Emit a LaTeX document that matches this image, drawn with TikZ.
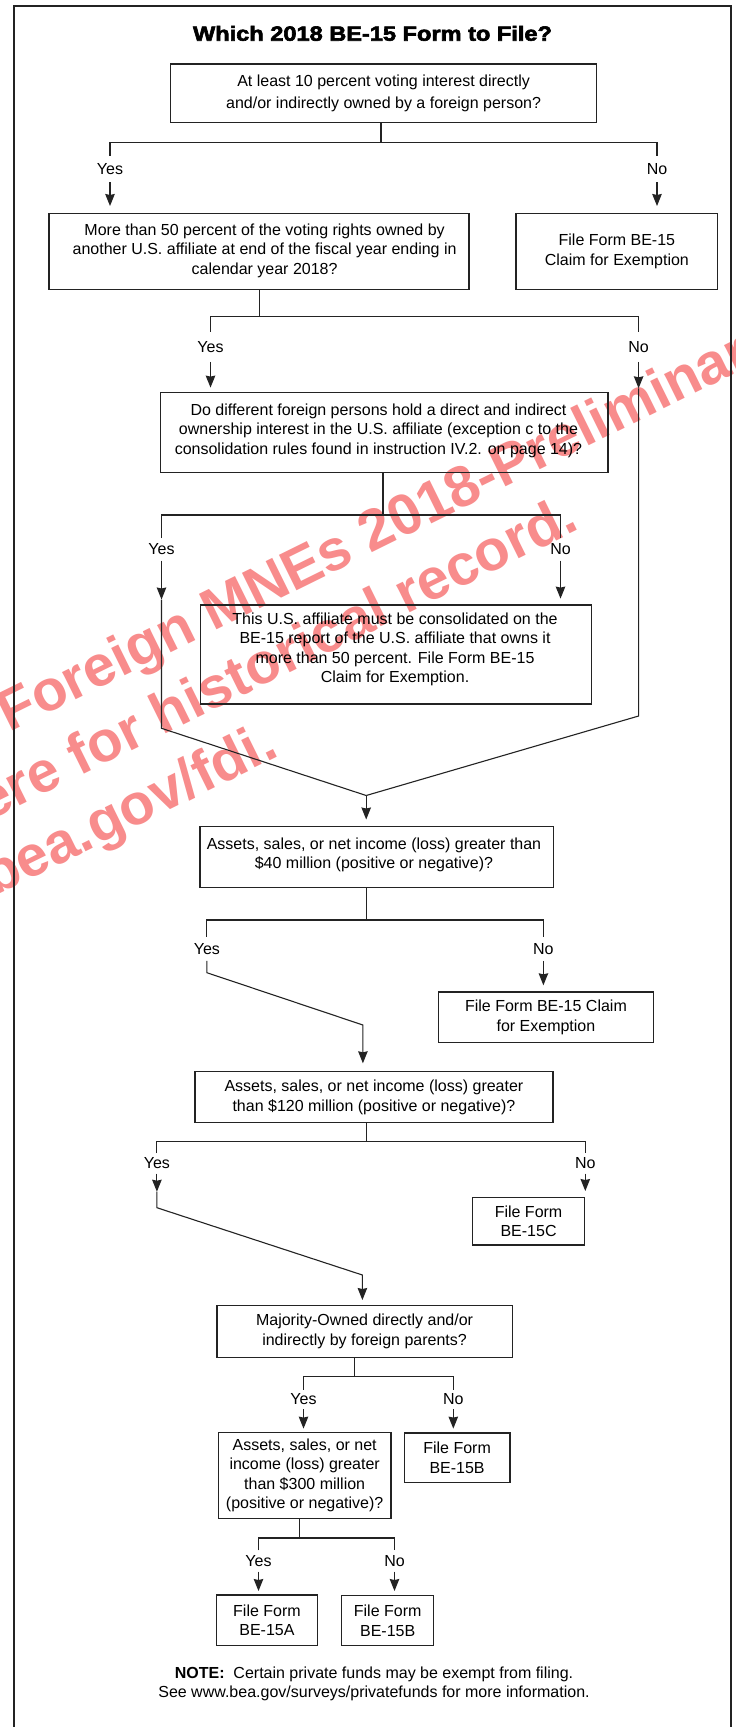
\documentclass[tikz,border=0pt]{standalone}
\usepackage{fontspec}
\setmainfont{Liberation Sans}
\newfontfamily\titlefont[FakeStretch=1.15,FakeBold=3]{Liberation Sans}
\usetikzlibrary{arrows.meta}
\definecolor{wm}{RGB}{248,140,140}
\definecolor{ink}{RGB}{35,35,35}
\begin{document}
\begin{tikzpicture}[x=1pt,y=-1pt,
 box/.style={draw=ink, line width=1.4pt, inner sep=0pt, align=center, font=\fontsize{16}{19.5}\selectfont},
 txt/.style={inner sep=0pt, align=center, font=\fontsize{16}{19.5}\selectfont},
 lab/.style={inner sep=0pt, minimum height=#1, font=\fontsize{16}{19}\selectfont},
 conn/.style={draw=ink, line width=1.1pt, line join=miter},
 arr/.style={conn, -{Stealth[length=12pt,width=9.5pt,inset=1pt]}},
 wmark/.style={inner sep=0pt, anchor=base west, rotate=26.3, text=wm, font=\fontsize{57.5}{57.5}\selectfont\bfseries}
]
\useasboundingbox (0,0) rectangle (736,1727);
\fill[white] (0,0) rectangle (736,1727);

% watermark (behind)
\node[wmark] (wm1) at (9.7,732.3) {Foreign MNEs 2018-Preliminary};
\node[wmark] (wm2) at (-12,821.5) {ere for historical record.};
\node[wmark] (wm3) at (-6,897) {bea.gov/fdi.};

% frame
\draw[ink, line width=2.5pt, line join=miter] (14,1735) -- (14,6) -- (731,6) -- (731,1735);

% title
\node[inner sep=0pt, anchor=base, font=\titlefont\bfseries\fontsize{20.5}{24}\selectfont] (title) at (372.5,40.7) {Which 2018 BE-15 Form to File?};

% boxes
\node[box, minimum width=426pt, minimum height=58.3pt, font=\fontsize{16}{21.7}\selectfont] (b1) at (383.6,93.15) {At least 10 percent voting interest directly\\and/or indirectly owned by a foreign person?};
\node[box, minimum width=420pt, minimum height=75.6pt] (b2) at (259,251.5) {};
\node[txt] (t2) at (264.6,250.5) {More than 50 percent of the voting rights owned by\\another U.S. affiliate at end of the fiscal year ending in\\calendar year 2018?};
\node[box, minimum width=201.7pt, minimum height=75.6pt, font=\fontsize{16}{20.5}\selectfont] (b3) at (616.85,251.5) {File Form BE-15\\Claim for Exemption};
\node[box, minimum width=447.8pt, minimum height=80pt] (b4) at (384.1,432.3) {};
\node[txt] (t4) at (378.5,430.5) {Do different foreign persons hold a direct and indirect\\ownership interest in the U.S. affiliate (exception c to the\\consolidation rules found in instruction IV.2. on page 14)?};
\node[box, minimum width=391.1pt, minimum height=99pt] (b5) at (395.85,654.5) {};
\node[txt] (t5) at (395,649.5) {This U.S. affiliate must be consolidated on the\\BE-15 report of the U.S. affiliate that owns it\\more than 50 percent. File Form BE-15\\Claim for Exemption.};
\node[box, minimum width=353.4pt, minimum height=61pt] (b6) at (376.5,857.2) {};
\node[txt] (t6) at (374,855) {Assets, sales, or net income (loss) greater than\\\$40 million (positive or negative)?};
\node[box, minimum width=215.3pt, minimum height=50.3pt, font=\fontsize{16}{20}\selectfont] (b7) at (545.95,1017.15) {File Form BE-15 Claim\\for Exemption};
\node[box, minimum width=357.7pt, minimum height=51pt] (b8) at (373.95,1097.2) {Assets, sales, or net income (loss) greater\\than \$120 million (positive or negative)?};
\node[box, minimum width=111.7pt, minimum height=47.3pt] (b9) at (528.55,1221.35) {File Form\\BE-15C};
\node[box, minimum width=295.5pt, minimum height=52pt] (b10) at (364.55,1331.3) {Majority-Owned directly and/or\\indirectly by foreign parents?};
\node[box, minimum width=172.9pt, minimum height=86pt] (b11) at (304.65,1475.3) {Assets, sales, or net\\income (loss) greater\\than \$300 million\\(positive or negative)?};
\node[box, minimum width=105.6pt, minimum height=49.7pt] (b12) at (457.1,1457.85) {File Form\\BE-15B};
\node[box, minimum width=101.3pt, minimum height=50.7pt] (b13) at (266.95,1620.35) {File Form\\BE-15A};
\node[box, minimum width=91.9pt, minimum height=50pt] (b14) at (387.65,1620.7) {File Form\\BE-15B};

% note
\node[inner sep=0pt, anchor=base, align=center, font=\fontsize{16}{19}\selectfont] (note) at (374,1697.5) {\textbf{NOTE:}\ \ Certain private funds may be exempt from filing.\\See www.bea.gov/surveys/privatefunds for more information.};

% labels
\node[lab=26pt] (Y1) at (110,169) {Yes};
\node[lab=26pt] (N1) at (657,169) {No};
\node[lab=30pt] (Y2) at (210.5,346.7) {Yes};
\node[lab=30pt] (N2) at (638.6,346.7) {No};
\node[lab=22pt] (Y3) at (161.5,549.3) {Yes};
\node[lab=22pt] (N3) at (560.5,549.3) {No};
\node[lab=24pt] (Y4) at (206.9,948.7) {Yes};
\node[lab=24pt] (N4) at (543.4,948.7) {No};
\node[lab=20pt] (Y5) at (156.9,1163.3) {Yes};
\node[lab=20pt] (N5) at (585.3,1163.3) {No};
\node[lab=19pt] (Y6) at (303.5,1399.3) {Yes};
\node[lab=19pt] (N6) at (453.3,1399.3) {No};
\node[lab=21pt] (Y7) at (258.5,1561) {Yes};
\node[lab=21pt] (N7) at (394.5,1561) {No};

% tree 1
\coordinate (j1) at (381,142.7);
\draw[conn] (b1.south -| j1) -- (j1);
\draw[conn] (Y1.north) -- (Y1.north |- j1) -- (N1.north |- j1) -- (N1.north);
\draw[arr, shorten >=7pt] (Y1.south) -- (Y1.south |- b2.north);
\draw[arr, shorten >=7pt] (N1.south) -- (N1.south |- b3.north);

% tree 2
\coordinate (j2) at (259.7,316.7);
\draw[conn] (b2.south -| j2) -- (j2);
\draw[conn] (Y2.north) -- (Y2.north |- j2) -- (N2.north |- j2) -- (N2.north);
\draw[arr, shorten >=4pt] (Y2.south) -- (Y2.south |- b4.north);
\coordinate (n2a) at (638.6,388.3);
\coordinate (n2b) at (638.6,716);
\coordinate (m1) at (366.2,795.5);
\draw[arr] (N2.south) -- (n2a);
\draw[conn] (n2a) -- (n2b) -- (m1);

% tree 3
\coordinate (j3) at (383,515);
\draw[conn] (b4.south -| j3) -- (j3);
\draw[conn] (Y3.north) -- (Y3.north |- j3) -- (N3.north |- j3) -- (N3.north);
\coordinate (y3a) at (161.5,599.5);
\coordinate (y3b) at (161.5,728.3);
\draw[arr] (Y3.south) -- (y3a);
\draw[conn] (y3a) -- (y3b) -- (m1);
\draw[arr, shorten >=5.7pt] (N3.south) -- (N3.south |- b5.north);
\draw[arr, shorten >=6.5pt] (m1) -- (m1 |- b6.north);

% tree 4
\coordinate (j4) at (366.2,920);
\draw[conn] (b6.south -| j4) -- (j4);
\draw[conn] (Y4.north) -- (Y4.north |- j4) -- (N4.north |- j4) -- (N4.north);
\coordinate (y4a) at (206.9,972.7);
\coordinate (y4b) at (362.9,1025);
\draw[arr, shorten >=7.7pt] (Y4.south) -- (y4a) -- (y4b) -- (y4b |- b8.north);
\draw[arr, shorten >=6pt] (N4.south) -- (N4.south |- b7.north);

% tree 5
\coordinate (j5) at (366.6,1141.7);
\draw[conn] (b8.south -| j5) -- (j5);
\draw[conn] (Y5.north) -- (Y5.north |- j5) -- (N5.north |- j5) -- (N5.north);
\coordinate (y5a) at (156.9,1191.7);
\coordinate (y5b) at (156.9,1207.7);
\coordinate (y5c) at (362.4,1275);
\draw[arr] (Y5.south) -- (y5a);
\draw[arr, shorten >=4.6pt] (y5a) -- (y5b) -- (y5c) -- (y5c |- b10.north);
\draw[arr, shorten >=6pt] (N5.south) -- (N5.south |- b9.north);

% tree 6
\coordinate (j6) at (354.9,1376.7);
\draw[conn] (b10.south -| j6) -- (j6);
\draw[conn] (Y6.north) -- (Y6.north |- j6) -- (N6.north |- j6) -- (N6.north);
\draw[arr, shorten >=3pt] (Y6.south) -- (Y6.south |- b11.north);
\draw[arr, shorten >=3.7pt] (N6.south) -- (N6.south |- b12.north);

% tree 7
\coordinate (j7) at (299.7,1538);
\draw[conn] (b11.south -| j7) -- (j7);
\draw[conn] (Y7.north) -- (Y7.north |- j7) -- (N7.north |- j7) -- (N7.north);
\draw[arr, shorten >=3.3pt] (Y7.south) -- (Y7.south |- b13.north);
\draw[arr, shorten >=4pt] (N7.south) -- (N7.south |- b14.north);
\end{tikzpicture}
\end{document}
